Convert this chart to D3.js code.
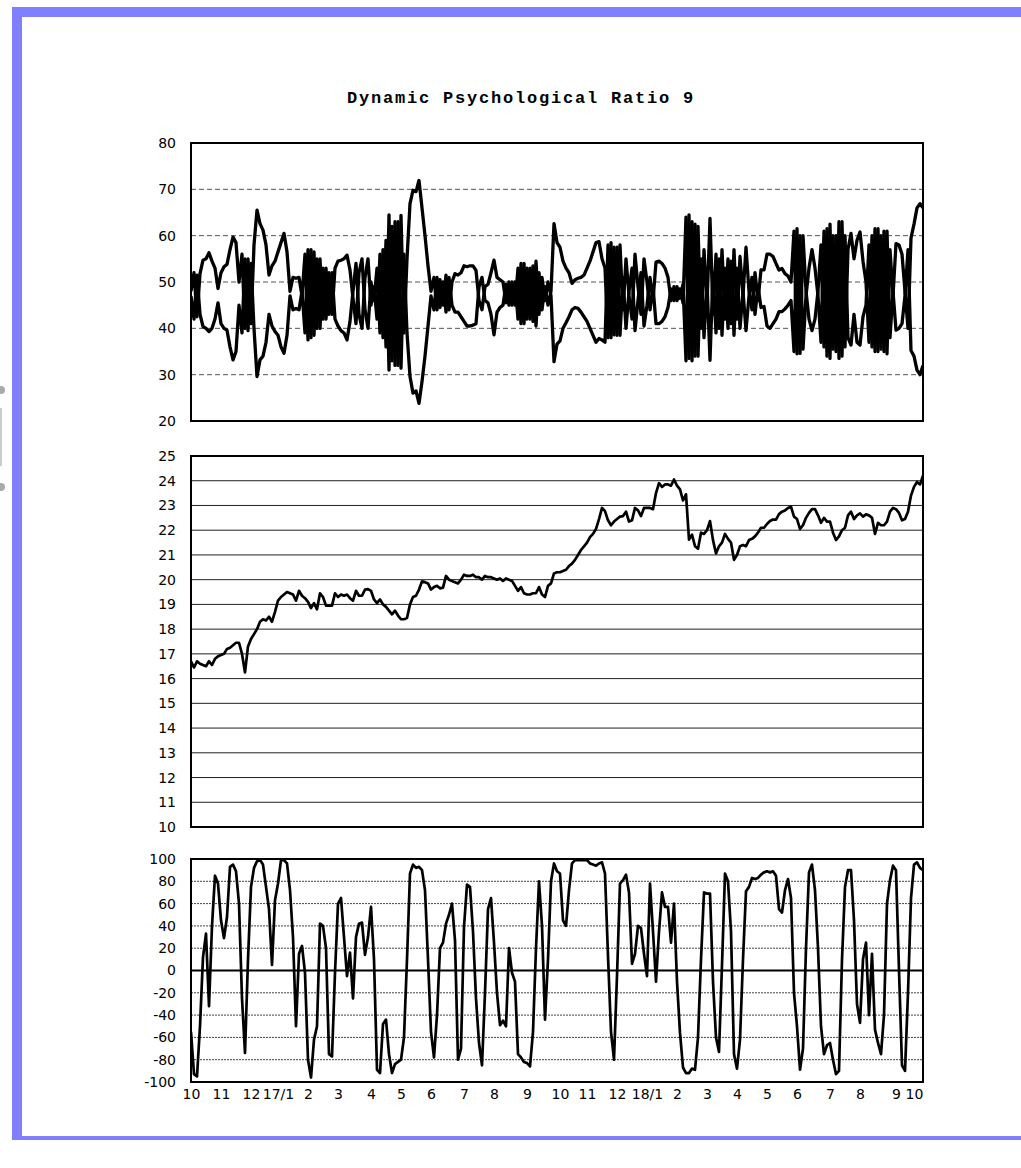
<!DOCTYPE html>
<html>
<head>
<meta charset="utf-8">
<script src="https://cdn.jsdelivr.net/npm/d3@7"></script>
<style>
  html, body { margin: 0; padding: 0; background: #fff; }
  svg { display: block; }
  .tick text { font-family: "DejaVu Sans", sans-serif; font-size: 14px; fill: #000; }
</style>
</head>
<body>
<div id="chart"></div>
<script>
// month labels on the shared time axis (index = trading-day sample)
const monthLabels = ["10","11","12","17/1","2","3","4","5","6","7","8","9","10","11","12","18/1","2","3","4","5","6","7","8","9","10"];
const monthIdx = [0,10,20,29,39,49,60,70,80,91,101,112,123,132,142,152,162,172,182,192,202,213,223,235,241];

// middle panel: price
const price = [
  16.7,16.45,16.7,16.6,16.55,16.5,16.7,16.55,16.8,16.9,
  16.95,17.0,17.2,17.25,17.35,17.45,17.45,17.0,16.25,17.3,
  17.6,17.8,18.0,18.3,18.4,18.35,18.5,18.3,18.7,19.15,
  19.3,19.4,19.5,19.45,19.4,19.15,19.55,19.35,19.25,19.1,
  18.85,19.05,18.8,19.45,19.3,18.95,18.95,18.95,19.45,19.3,
  19.4,19.35,19.4,19.25,19.15,19.55,19.35,19.35,19.6,19.62,
  19.55,19.2,19.05,19.2,19.0,18.9,18.75,18.6,18.75,18.55,
  18.4,18.4,18.45,19.0,19.3,19.35,19.6,19.93,19.9,19.85,
  19.6,19.7,19.75,19.65,19.68,20.15,20.0,19.95,19.9,19.85,
  20.0,20.2,20.15,20.15,20.2,20.1,20.1,20.0,20.15,20.1,
  20.1,20.05,20.0,20.05,19.95,20.05,20.0,19.95,19.75,19.55,
  19.7,19.45,19.4,19.4,19.45,19.45,19.7,19.4,19.3,19.75,
  19.85,20.25,20.3,20.3,20.35,20.4,20.55,20.65,20.8,21.0,
  21.2,21.35,21.5,21.72,21.85,22.05,22.45,22.9,22.77,22.4,
  22.2,22.35,22.45,22.55,22.57,22.75,22.35,22.4,22.9,22.8,
  22.57,22.9,22.9,22.9,22.85,23.5,23.9,23.75,23.85,23.85,
  23.8,24.05,23.8,23.65,23.2,23.45,21.62,21.82,21.35,21.25,
  21.9,21.85,22.0,22.37,21.6,21.06,21.35,21.5,21.85,21.65,
  21.5,20.8,21.0,21.35,21.4,21.35,21.6,21.65,21.75,21.9,
  22.1,22.1,22.25,22.37,22.43,22.43,22.65,22.75,22.8,22.9,
  22.95,22.55,22.45,22.05,22.2,22.5,22.7,22.85,22.85,22.6,
  22.3,22.5,22.35,22.35,21.9,21.6,21.75,22.0,22.1,22.6,
  22.75,22.45,22.6,22.68,22.55,22.64,22.6,22.5,21.85,22.3,
  22.2,22.2,22.35,22.75,22.9,22.85,22.7,22.4,22.45,22.75,
  23.4,23.75,23.95,23.85,24.2
];

// bottom panel: oscillator (-100..100)
const osc = [
  -55,-93,-95,-50,12,33,-32,40,85,78,
  45,29,48,93,95,89,60,-25,-74,10,
  75,92,98,99,95,75,55,5,63,78,
  99,99,96,72,30,-50,15,22,-2,-80,
  -96,-62,-50,42,40,20,-75,-77,-2,60,
  65,30,-5,16,-25,30,42,43,14,30,
  57,10,-89,-92,-48,-44,-75,-92,-84,-82,
  -80,-60,10,87,95,92,93,90,72,10,
  -55,-78,-40,20,25,42,50,60,27,-80,
  -70,39,77,75,35,-25,-65,-85,-20,55,
  65,25,-20,-49,-45,-50,20,-2,-10,-75,
  -78,-82,-83,-86,-55,20,80,40,-44,10,
  80,96,89,87,45,40,72,96,99,99,
  99,99,99,96,95,94,96,97,87,13,
  -55,-80,-5,78,81,86,70,6,15,40,
  38,15,-5,78,35,-10,35,70,57,57,
  25,60,-10,-56,-87,-92,-92,-88,-89,-60,
  10,70,69,69,-10,-60,-73,5,87,80,
  35,-75,-88,-62,10,71,75,83,82,83,
  86,88,89,88,89,85,55,52,72,82,
  65,-20,-50,-89,-70,20,88,95,72,20,
  -50,-75,-67,-65,-80,-93,-90,10,75,90,
  90,45,-30,-47,10,25,-40,15,-53,-65,
  -75,-40,60,81,94,90,0,-85,-90,-20,
  65,95,97,92,90
];

// top panel: two ratio lines
const dprA = [
  48,52,42.5,51.8,54.7,55,56.3,54.5,53,48.6,
  52,53.3,53.8,57,59.7,58.5,50,56,40,55,
  41,58,65.5,62.6,61.2,58,51.5,53.5,54.5,56.5,
  58.5,60.5,56.5,48,51,50.8,51,47,56,37.5,
  57,38.5,55,40,53,42,52,43,53,54.5,
  54.7,55,55.8,52.6,46.5,41,52,55,44,40,
  50,46,53,39,57,36,64.5,33,63,32,
  64.4,39,55,66.9,69.8,69.5,71.9,66,60,53.5,
  48,51,44,50.5,45,51.5,44,50,51.8,51.5,
  52,53.5,53.3,53.5,53.5,52.5,46,44,49,49.5,
  52,54.7,51,50.5,50,45.5,50,45,50,42,
  54,41,53,42,53.5,40.5,52,44,49,45,
  48,62.6,58.5,57.5,54.5,53,52,49.7,50.5,50.8,
  51,51.5,53,54.5,56.5,58.5,58.7,55,53,38,
  58.5,38.6,57.5,38.5,51,40,48,53,39.5,46,
  52,40.5,45,51,46,54.3,54.5,54,53,51,
  46,49,46,48.5,45.5,64,33.5,63,34,62,
  40,57,45,63.7,43,56,40,57,42,55,
  41,57,42,55.5,47,57.5,48,44,52,46,
  52.6,52.6,56,56,55.5,54,52.6,52.9,51.8,51.3,
  50,61,34.5,60,35.5,47,53,57,53,47,
  37,61,34,62.5,35.5,60,33.5,63,36,57,
  60.5,55,59,60.8,54.5,50,37,60,35,61.5,
  35.5,61,34.5,57,47,58.3,58,56,48,40,
  59.5,62.5,66,66.9,66
];
const dprB = [
  47,42,51.5,43,40.4,40,39.3,40,42,45.5,
  41,40,39.6,36,33.2,35,45,39,55,39.5,
  54,40,29.6,33.2,34,37,43,40.5,39.3,38.5,
  36,34.6,38.5,47,44,44.3,44,48,39,57,
  38,56.5,40,55,42,53,43,52,42,40.5,
  39.5,39,37.5,41.5,48,54,43,40,51,55,
  45,49,42,56,38,59,31,62,32,63,
  31.4,56,39,29.6,26,26.5,23.8,28.5,34,40.5,
  47,44,51,44.5,50,43.5,51,45,43.5,43.5,
  42.5,41.5,40.5,40.5,40.7,41,49,51,46,45.5,
  43,38.6,43.5,44.5,45,49.5,45,50,45,53,
  41,54,42,53,41.5,54.5,43,51,46,50,
  47,32.8,36.6,37.3,40,41.2,42.5,44,44.5,44.3,
  43.5,42.5,41.5,40,38.5,37,37.8,37.5,37,58,
  38,57.5,38.5,58,44,55,47,42,56,49,
  43,55,50,44,49,41,41,41.5,42.5,44.5,
  48.5,46,49,46.5,49.5,33,64.5,33,62.5,34,
  55,38,50,33.1,52,39,55,38.5,53,40,
  54.5,38.5,53,40,48,39.5,47,51,43,49,
  44.5,44.7,40.5,40,41,42,43.6,43.6,44.2,45,
  46,35,61.5,34.6,60,48,42,39.5,42,48,
  58,36,61.5,33.5,60,35,63,34,60,38,
  36.4,43,37,36.4,42.5,45,58,36,61.5,35,
  60,35,61,38,48,39.6,40,41,47,57,
  35.2,34,31,30,32
];

const W = 1021, H = 1168;
const svg = d3.select('#chart').append('svg')
    .attr('width', W)
    .attr('height', H);

svg.append('rect').attr('width', W).attr('height', H).attr('fill', '#fff');

// page frame (blue-violet bars)
const frame = '#8080ff';
svg.append('rect').attr('x', 12).attr('y', 7).attr('width', W - 12).attr('height', 10).attr('fill', frame);
svg.append('rect').attr('x', 12).attr('y', 7).attr('width', 10).attr('height', 1133).attr('fill', frame);
svg.append('rect').attr('x', 12).attr('y', 1136).attr('width', W - 12).attr('height', 4).attr('fill', frame);

// little grey marks at the far left edge
svg.append('circle').attr('cx', 1).attr('cy', 390).attr('r', 4).attr('fill', '#aaa');
svg.append('rect').attr('x', 0).attr('y', 408).attr('width', 2).attr('height', 58).attr('fill', '#ccc');
svg.append('circle').attr('cx', 1).attr('cy', 487).attr('r', 4).attr('fill', '#aaa');

svg.append('text')
    .attr('x', 521)
    .attr('y', 103)
    .attr('text-anchor', 'middle')
    .style('font-family', '"Liberation Mono", "Courier New", monospace')
    .style('font-weight', 'bold')
    .style('font-size', '17px')
    .style('letter-spacing', '1.8px')
    .text('Dynamic Psychological Ratio 9');

const x = d3.scaleLinear().domain([0, price.length - 1]).range([191, 923]);

function panel(id, y, ticks, grid, gridStyle) {
    const g = svg.append('g');
    const [x0, x1] = x.range();
    const [yb, yt] = y.range();

    g.append('clipPath').attr('id', id)
        .append('rect').attr('x', x0).attr('y', yt).attr('width', x1 - x0).attr('height', yb - yt);

    g.selectAll('line.grid')
        .data(grid)
        .enter().append('line')
        .attr('class', 'grid')
        .attr('x1', x0).attr('x2', x1)
        .attr('y1', d => y(d)).attr('y2', d => y(d))
        .attr('stroke', gridStyle.color)
        .attr('stroke-width', gridStyle.width)
        .attr('stroke-dasharray', gridStyle.dash);

    const ax = g.append('g')
        .attr('transform', `translate(${x0},0)`)
        .call(d3.axisLeft(y).tickValues(ticks).tickSize(0).tickPadding(15).tickFormat(d => String(d)));
    ax.select('.domain').remove();

    return g;
}

function drawLine(g, id, data, y, w) {
    g.append('path')
        .datum(data)
        .attr('clip-path', `url(#${id})`)
        .attr('fill', 'none')
        .attr('stroke', '#000')
        .attr('stroke-width', w)
        .attr('stroke-linejoin', 'round')
        .attr('d', d3.line().x((d, i) => x(i)).y(d => y(d)));
}

function border(g, y) {
    const [x0, x1] = x.range();
    const [yb, yt] = y.range();
    g.append('rect')
        .attr('x', x0).attr('y', yt)
        .attr('width', x1 - x0).attr('height', yb - yt)
        .attr('fill', 'none')
        .attr('stroke', '#000')
        .attr('stroke-width', 2);
}

// top panel
const y1 = d3.scaleLinear().domain([20, 80]).range([421, 143]);
const p1 = panel('c1', y1, d3.range(20, 81, 10), [30, 40, 50, 60, 70], {color: '#555', width: 1, dash: '5,3'});
drawLine(p1, 'c1', dprA, y1, 3.3);
drawLine(p1, 'c1', dprB, y1, 3.3);
border(p1, y1);

// middle panel
const y2 = d3.scaleLinear().domain([10, 25]).range([827, 456]);
const p2 = panel('c2', y2, d3.range(10, 26), d3.range(11, 25), {color: '#222', width: 1, dash: null});
drawLine(p2, 'c2', price, y2, 2.7);
border(p2, y2);

// bottom panel
const y3 = d3.scaleLinear().domain([-100, 100]).range([1082, 859]);
const p3 = panel('c3', y3, d3.range(-100, 101, 20), [-80, -60, -40, -20, 20, 40, 60, 80], {color: '#444', width: 1, dash: '2,1'});
p3.append('line')
    .attr('x1', x.range()[0]).attr('x2', x.range()[1])
    .attr('y1', y3(0)).attr('y2', y3(0))
    .attr('stroke', '#000').attr('stroke-width', 2);
drawLine(p3, 'c3', osc, y3, 2.7);
border(p3, y3);

const xa = svg.append('g')
    .attr('transform', `translate(0,${y3.range()[0]})`)
    .call(d3.axisBottom(x).tickValues(monthIdx).tickSize(0).tickPadding(7)
        .tickFormat((d, i) => monthLabels[i]));
xa.select('.domain').remove();
</script>
</body>
</html>
